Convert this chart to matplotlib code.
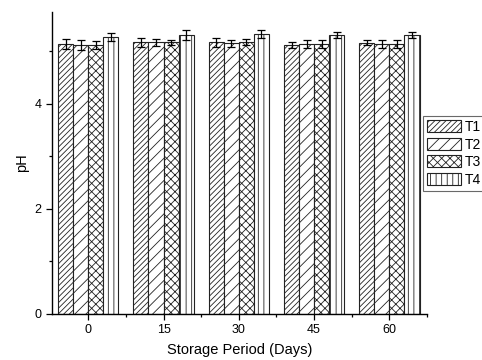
import numpy as np
import matplotlib
matplotlib.use("Agg")
import matplotlib.pyplot as plt
from matplotlib.ticker import MultipleLocator

plt.rcParams['font.family'] = ['Liberation Sans', 'DejaVu Sans']
plt.rcParams['hatch.linewidth'] = 0.6

days = ["0", "15", "30", "45", "60"]
series = ["T1", "T2", "T3", "T4"]
T1 = [5.14, 5.17, 5.17, 5.12, 5.16]
T2 = [5.12, 5.17, 5.15, 5.14, 5.14]
T3 = [5.12, 5.17, 5.17, 5.14, 5.14]
T4 = [5.27, 5.31, 5.33, 5.31, 5.31]
E1 = [0.10, 0.08, 0.08, 0.06, 0.05]
E2 = [0.09, 0.07, 0.06, 0.07, 0.08]
E3 = [0.07, 0.05, 0.06, 0.08, 0.08]
E4 = [0.08, 0.09, 0.08, 0.06, 0.06]
values = [T1, T2, T3, T4]
errors = [E1, E2, E3, E4]
hatches = ['//////', '///', 'xxxx', '|||']

fig = plt.figure(figsize=(4.82, 3.6), dpi=100)
ax = fig.add_axes([0.108, 0.128, 0.778, 0.839])

x = np.arange(len(days))
w = 0.2
offs = [-0.3, -0.1, 0.1, 0.3]
for i in range(4):
    ax.bar(x + offs[i], values[i], w, yerr=errors[i], color='white',
           edgecolor='#222222', linewidth=0.8, hatch=hatches[i], label=series[i],
           error_kw=dict(ecolor='black', elinewidth=0.9, capsize=3, capthick=0.9))

ax.set_xlim(-0.48, 4.5)
ax.set_ylim(0, 5.75)
ax.set_xticks(x)
ax.set_xticklabels(days)
ax.set_xticks(x + 0.5, minor=True)
ax.yaxis.set_major_locator(MultipleLocator(2))
ax.yaxis.set_minor_locator(MultipleLocator(1))
ax.tick_params(axis='both', which='major', direction='out', length=4, width=0.9, labelsize=9)
ax.tick_params(axis='both', which='minor', direction='out', length=2.5, width=0.9)
ax.spines['top'].set_visible(False)
ax.spines['right'].set_visible(False)
for s in ['left', 'bottom']:
    ax.spines[s].set_linewidth(1.0)
ax.set_xlabel("Storage Period (Days)", fontsize=10.5, labelpad=5)
ax.set_ylabel("pH", fontsize=10.5, labelpad=4)

leg = ax.legend(loc='upper left', bbox_to_anchor=(0.99, 0.655), fontsize=10,
                frameon=True, fancybox=False, edgecolor='#444444',
                handlelength=2.4, handleheight=0.95, handletextpad=0.3,
                labelspacing=0.25, borderpad=0.3, borderaxespad=0)
leg.get_frame().set_linewidth(0.8)

fig.savefig("out.png", dpi=100)
